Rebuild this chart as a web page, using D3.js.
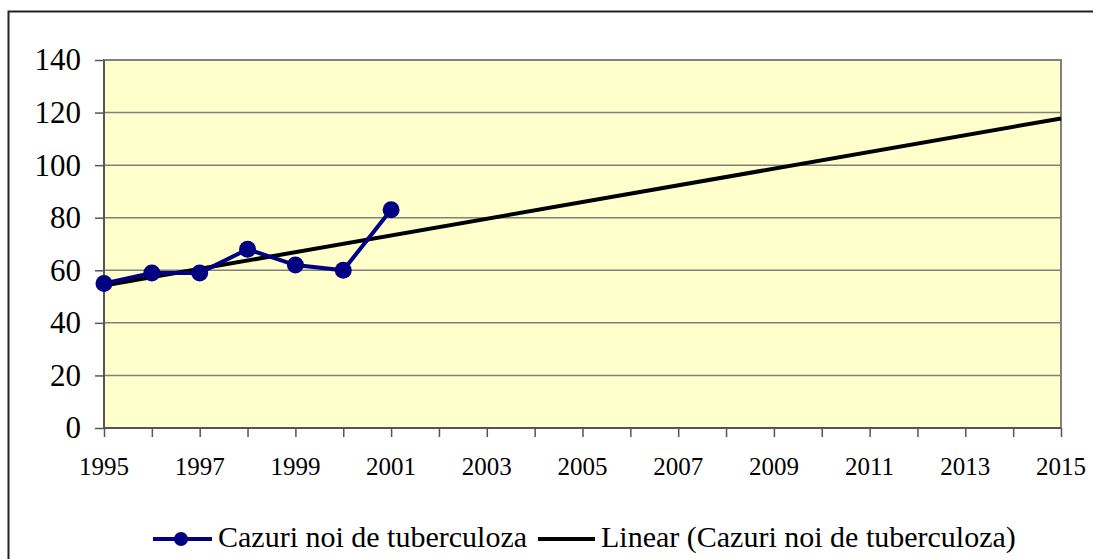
<!DOCTYPE html>
<html>
<head>
<meta charset="utf-8">
<script src="https://cdn.jsdelivr.net/npm/d3@7"></script>
<style>
  body { margin: 0; background: #fff; font-family: 'Liberation Serif', serif; }
  #chart text { font-family: 'Liberation Serif', serif; }
</style>
</head>
<body>
<svg id="chart" width="1093" height="559" font-family="Liberation Serif"></svg>
<script>
const width = 1093;
const height = 559;

// data
const years = [1995, 1996, 1997, 1998, 1999, 2000, 2001];
const cases = [55, 59, 59, 68, 62, 60, 83];
const yTicks = [0, 20, 40, 60, 80, 100, 120, 140];
const xLabels = [1995, 1997, 1999, 2001, 2003, 2005, 2007, 2009, 2011, 2013, 2015];
const seriesName = 'Cazuri noi de tuberculoza';
const trendName = 'Linear (Cazuri noi de tuberculoza)';

const plot = {left: 104, top: 60, right: 1061, bottom: 428};

const svg = d3.select('#chart');

// outer frame
svg.append('rect')
  .attr('x', 8.5).attr('y', 11.5)
  .attr('width', width + 20).attr('height', height + 20)
  .attr('fill', 'none')
  .attr('stroke', '#222')
  .attr('stroke-width', 2);

const x = d3.scaleLinear().domain([1995, 2015]).range([plot.left, plot.right]);
const y = d3.scaleLinear().domain([0, 140]).range([plot.bottom, plot.top]);

// plot background
svg.append('rect')
  .attr('x', plot.left).attr('y', plot.top)
  .attr('width', plot.right - plot.left)
  .attr('height', plot.bottom - plot.top)
  .attr('fill', '#FFFFCC')
  .attr('stroke', '#808080')
  .attr('stroke-width', 2);

// gridlines
svg.append('g').selectAll('line').data(yTicks.slice(1)).join('line')
  .attr('x1', plot.left).attr('x2', plot.right)
  .attr('y1', (d) => y(d)).attr('y2', (d) => y(d))
  .attr('stroke', '#808080')
  .attr('stroke-width', 1.5);

// y axis
const yaxis = d3.axisLeft(y).tickValues(yTicks).tickSize(9).tickPadding(14);
const g_yaxis = svg.append('g')
  .attr('transform', `translate(${plot.left},0)`)
  .call(yaxis)
  .attr('font-family', null)
  .attr('font-size', 31);
g_yaxis.select('.domain').remove();
g_yaxis.selectAll('.tick line').attr('stroke', '#555').attr('stroke-width', 1.5);
g_yaxis.selectAll('.tick text').attr('fill', '#000');
svg.append('line')
  .attr('x1', plot.left).attr('x2', plot.left)
  .attr('y1', plot.top).attr('y2', plot.bottom)
  .attr('stroke', '#555').attr('stroke-width', 2);

// x axis: ticks every year, labels every two years
const xaxis = d3.axisBottom(x).ticks(20).tickSize(9).tickFormat(() => '');
const g_xaxis = svg.append('g')
  .attr('transform', `translate(0,${plot.bottom})`)
  .call(xaxis);
g_xaxis.select('.domain').attr('stroke', '#555').attr('stroke-width', 2).attr('d', `M${plot.left},0H${plot.right}`);
g_xaxis.selectAll('.tick line').attr('stroke', '#555').attr('stroke-width', 1.5);

svg.append('g').selectAll('text').data(xLabels).join('text')
  .attr('x', (d) => x(d))
  .attr('y', 475)
  .attr('text-anchor', 'middle')
  .attr('font-size', 25)
  .text((d) => d);

// linear trend (least squares on the series)
const mx = d3.mean(years);
const my = d3.mean(cases);
const slope = d3.sum(years, (d, i) => (d - mx) * (cases[i] - my)) / d3.sum(years, (d) => (d - mx) ** 2);
const trend = (t) => my + slope * (t - mx);

svg.append('line')
  .attr('x1', x(1995)).attr('y1', y(trend(1995)))
  .attr('x2', x(2015)).attr('y2', y(trend(2015)))
  .attr('stroke', '#000')
  .attr('stroke-width', 4);

// series
const line = d3.line().x((d, i) => x(years[i])).y((d) => y(d));
svg.append('path')
  .datum(cases)
  .attr('d', line)
  .attr('fill', 'none')
  .attr('stroke', '#000080')
  .attr('stroke-width', 4);

svg.append('g').selectAll('circle').data(cases).join('circle')
  .attr('cx', (d, i) => x(years[i]))
  .attr('cy', (d) => y(d))
  .attr('r', 8.5)
  .attr('fill', '#000080');

// legend
const lg = svg.append('g').attr('font-size', 30);
lg.append('line')
  .attr('x1', 153).attr('x2', 212).attr('y1', 539).attr('y2', 539)
  .attr('stroke', '#000080').attr('stroke-width', 4);
lg.append('circle').attr('cx', 181).attr('cy', 539).attr('r', 7).attr('fill', '#000080');
lg.append('text').attr('x', 218).attr('y', 547).text(seriesName);
lg.append('line')
  .attr('x1', 538).attr('x2', 595).attr('y1', 539).attr('y2', 539)
  .attr('stroke', '#000').attr('stroke-width', 4);
lg.append('text').attr('x', 601).attr('y', 547).text(trendName);
</script>
</body>
</html>
